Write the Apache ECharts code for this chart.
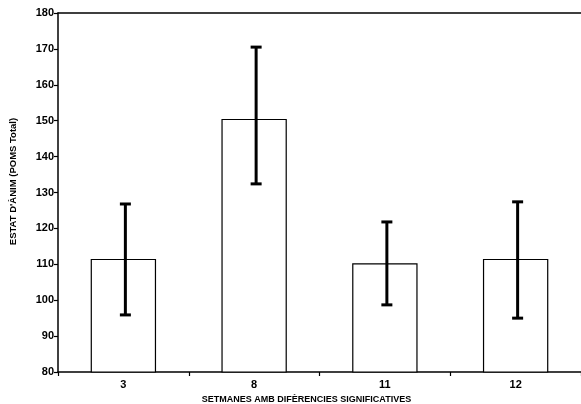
<!DOCTYPE html>
<html>
<head>
<meta charset="utf-8">
<script src="https://cdn.jsdelivr.net/npm/echarts@6/dist/echarts.min.js"></script>
<style>html,body{margin:0;padding:0;background:#fff;}#c{width:581px;height:404px;}</style>
</head>
<body>
<div id="c"></div>
<script>
var categories = ['3', '8', '11', '12'];
var means = [111.5, 150.5, 110.3, 111.5];
var errLow = [95.9, 132.4, 98.7, 95.0];
var errHigh = [126.8, 170.5, 121.8, 127.4];
var yTicks = [80, 90, 100, 110, 120, 130, 140, 150, 160, 170, 180];

var chart = echarts.init(document.getElementById('c'));
var font = 'Liberation Sans, Arial, sans-serif';
chart.setOption({
  animation: false,
  grid: {left: 58, top: 13, right: 0, bottom: 32, containLabel: false, outerBoundsMode: 'none'},
  xAxis: [{
    type: 'category',
    data: categories,
    position: 'bottom',
    axisLine: {lineStyle: {color: '#000', width: 1.5}},
    axisTick: {show: true, length: 4, lineStyle: {color: '#000', width: 1.2}},
    axisLabel: {color: '#000', fontFamily: font, fontWeight: 'bold', fontSize: 11, margin: 7},
    name: 'SETMANES AMB DIFÈRENCIES SIGNIFICATIVES',
    nameLocation: 'middle',
    nameGap: 21,
    nameTextStyle: {color: '#000', fontFamily: font, fontWeight: 'bold', fontSize: 9, padding: [0, 26, 0, 0]}
  }, {
    type: 'category',
    data: categories,
    position: 'top',
    axisLine: {lineStyle: {color: '#000', width: 1.5}},
    axisTick: {show: false},
    axisLabel: {show: false}
  }],
  yAxis: {
    type: 'value',
    min: 80, max: 180, interval: 10,
    axisLine: {show: true, lineStyle: {color: '#000', width: 1.5}},
    axisTick: {show: true, length: 4, lineStyle: {color: '#000', width: 1.2}},
    splitLine: {show: false},
    axisLabel: {color: '#000', fontFamily: font, fontWeight: 'bold', fontSize: 11, margin: 4,
      formatter: function (v) { return yTicks.indexOf(v) >= 0 ? String(v) : ''; }},
    name: "ESTAT D'ÀNIM (POMS Total)",
    nameLocation: 'middle',
    nameGap: 40,
    nameTextStyle: {color: '#000', fontFamily: font, fontWeight: 'bold', fontSize: 9.5, padding: [0, 0, 0, 22]}
  },
  series: [{
    type: 'bar',
    data: means,
    barWidth: '50%',
    itemStyle: {color: '#fff', borderColor: '#000', borderWidth: 1.2}
  }, {
    type: 'custom',
    data: categories.map(function (c, i) { return [i, errLow[i], errHigh[i]]; }),
    z: 10,
    renderItem: function (params, api) {
      var lo = api.coord([api.value(0), api.value(1)]);
      var hi = api.coord([api.value(0), api.value(2)]);
      var x = lo[0] + 2;
      var hw = 5.5;
      var st = {stroke: '#000', lineWidth: 3, fill: 'none'};
      return {type: 'group', children: [
        {type: 'line', shape: {x1: x, y1: hi[1], x2: x, y2: lo[1]}, style: st},
        {type: 'line', shape: {x1: x - hw, y1: hi[1], x2: x + hw, y2: hi[1]}, style: st},
        {type: 'line', shape: {x1: x - hw, y1: lo[1], x2: x + hw, y2: lo[1]}, style: st}
      ]};
    }
  }]
});
</script>
</body>
</html>
